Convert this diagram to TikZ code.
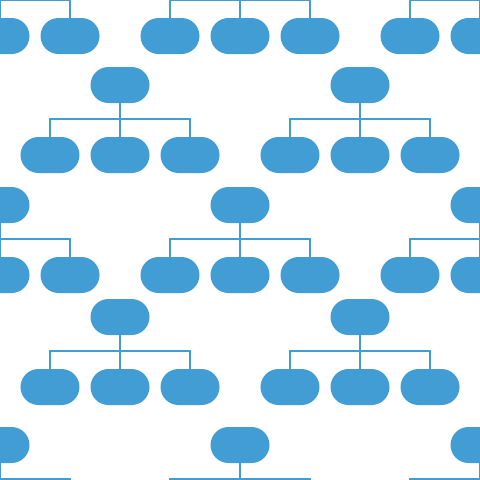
\documentclass[tikz,border=0pt]{standalone}
\usepackage{xcolor}
\usepackage{tikz}
\usetikzlibrary{shapes.misc}

\definecolor{orgblue}{RGB}{66,157,213}

\begin{document}
\begin{tikzpicture}[x=1pt,y=-1pt,
  pill/.style={rounded rectangle,fill=orgblue,inner sep=0pt,minimum width=59pt,minimum height=36pt},
  link/.style={draw=orgblue,line width=2pt}]
\useasboundingbox (0,0) rectangle (480,480);
\clip (0,0) rectangle (480,480);
\fill[white] (0,0) rectangle (480,480);

\foreach \px/\py [count=\i] in {0/-34, 240/-34, 480/-34, 120/85, 360/85, 0/205, 240/205, 480/205, 120/317, 360/317, 0/445, 240/445, 480/445} {
  \node[pill] (p\i) at (\px,\py) {};
  \node[pill] (a\i) at (\px-70,\py+70) {};
  \node[pill] (b\i) at (\px,\py+70) {};
  \node[pill] (c\i) at (\px+70,\py+70) {};
  \coordinate (m\i) at (\px,\py+33.5);
  \draw[link] (p\i) -- (b\i);
  \draw[link] (a\i) |- (m\i) -| (c\i);
}
\end{tikzpicture}
\end{document}
